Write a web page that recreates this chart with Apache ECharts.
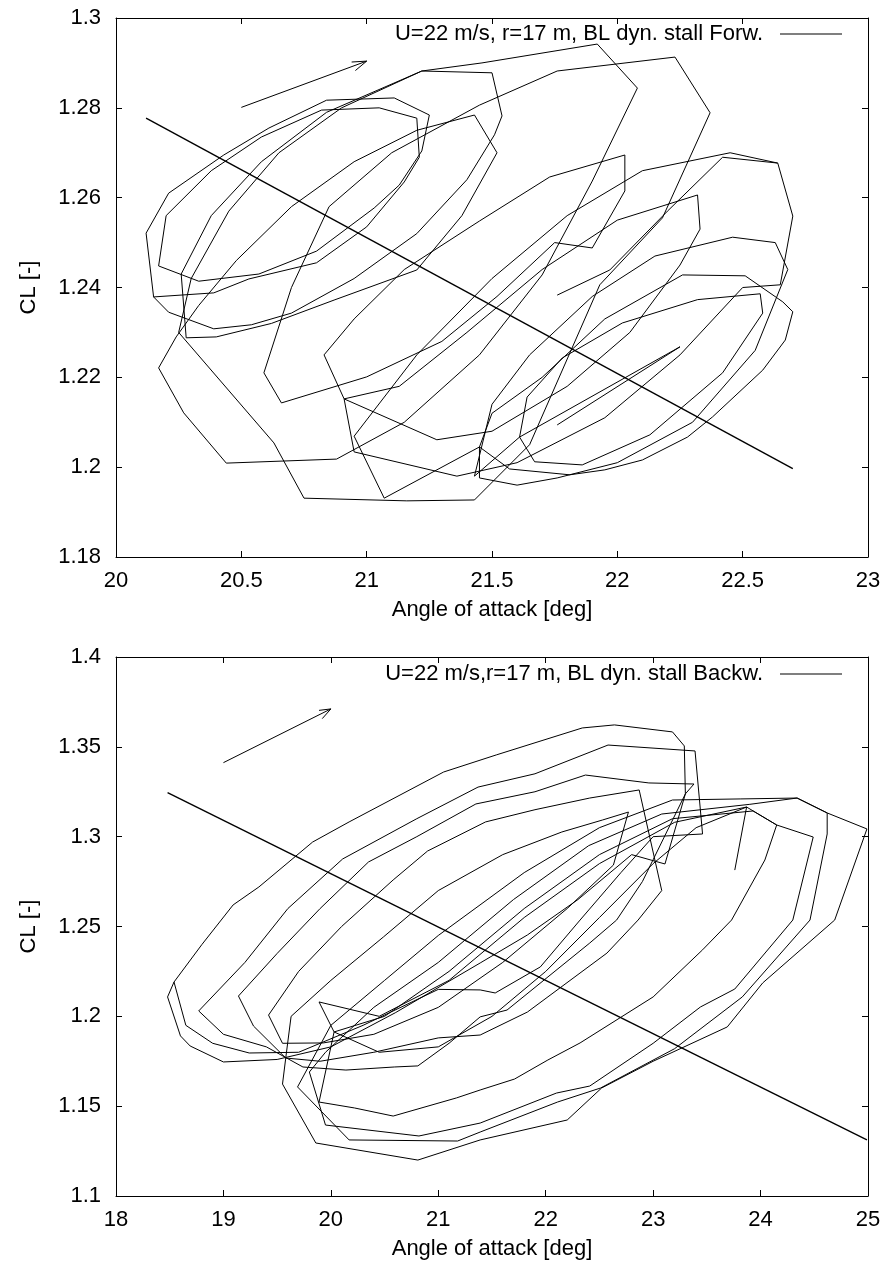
<!DOCTYPE html>
<html>
<head>
<meta charset="utf-8">
<script src="https://cdn.jsdelivr.net/npm/echarts@6/dist/echarts.min.js"></script>
<style>
  html, body { margin: 0; padding: 0; background: #fff; }
  #chart { width: 885px; height: 1270px; }
</style>
</head>
<body>
<div id="chart"></div>
<script>
const forwName = "U=22 m/s, r=17 m, BL dyn. stall Forw.";
const backName = "U=22 m/s,r=17 m, BL dyn. stall Backw.";

// axis ranges: [min, max, step]
const forwXRange = [20, 23, 0.5];
const forwYRange = [1.18, 1.3, 0.02];
const backXRange = [18, 25, 1];
const backYRange = [1.1, 1.4, 0.05];

// ---- forward run (top) ----
const forwStart = [[21.76,1.2383],[21.97,1.2439],[22.20,1.2570],[22.42,1.2690],[22.64,1.2677]];
const forwA = [[20.15,1.2379],[20.12,1.2521],[20.21,1.2610],[20.43,1.2695],[20.61,1.2755],[20.84,1.2817],[21.11,1.2822],[21.25,1.2784],[21.22,1.2704],[21.13,1.2628],[21.03,1.2577],[20.80,1.2481],[20.57,1.2430],[20.33,1.2414],[20.17,1.2448]];
const forwB = [[20.20,1.2560],[20.38,1.2660],[20.58,1.2735],[20.82,1.2795],[21.05,1.2800],[21.20,1.2777],[21.21,1.2690],[21.15,1.2635],[21.00,1.2535],[20.80,1.2455],[20.53,1.2419],[20.39,1.2388],[20.15,1.2379]];
const forwC = [[20.21,1.2345],[20.39,1.2308],[20.54,1.2317],[20.70,1.2343],[20.95,1.2420],[21.20,1.2520],[21.40,1.2640],[21.51,1.2740],[21.54,1.2782],[21.50,1.2878],[21.22,1.2882],[20.84,1.2790],[20.58,1.2680],[20.38,1.2560],[20.26,1.2430],[20.28,1.2288]];
const forwD = [[20.40,1.2290],[20.62,1.2320],[20.87,1.2372],[21.20,1.2439],[21.38,1.2560],[21.52,1.2700],[21.43,1.2784],[21.20,1.2750],[20.95,1.2680],[20.70,1.2580],[20.48,1.2460],[20.33,1.2360],[20.24,1.2290],[20.17,1.2221]];
const forwE = [[20.27,1.2121],[20.44,1.2009],[20.88,1.2018],[21.15,1.2100],[21.45,1.2250],[21.70,1.2428],[21.90,1.2637],[22.08,1.2844],[21.92,1.2942],[21.46,1.2900],[21.22,1.2882],[20.90,1.2800],[20.65,1.2700],[20.45,1.2570],[20.30,1.2420],[20.25,1.2300]];
const forwF = [[20.63,1.2054],[20.75,1.1931],[21.16,1.1925],[21.43,1.1927],[21.65,1.2050],[21.93,1.2406],[22.18,1.2555],[22.37,1.2789],[22.23,1.2913],[21.76,1.2882],[21.45,1.2806],[21.10,1.2700],[20.85,1.2580],[20.70,1.2400],[20.59,1.2210]];
const forwG = [[20.66,1.2143],[21.00,1.2201],[21.30,1.2280],[21.52,1.2380],[21.75,1.2500],[21.90,1.2488],[22.03,1.2615],[22.03,1.2695],[21.73,1.2646],[21.45,1.2548],[21.15,1.2440],[20.95,1.2330],[20.83,1.2250],[20.91,1.2152]];
const forwI = [[21.28,1.2061],[21.50,1.2080],[21.80,1.2180],[22.05,1.2300],[22.25,1.2450],[22.33,1.2530],[22.32,1.2606],[22.00,1.2550],[21.70,1.2440],[21.40,1.2300],[21.13,1.2180],[20.91,1.2152],[20.95,1.2034]];
const forwH = [[21.36,1.1980],[21.60,1.2010],[21.95,1.2110],[22.25,1.2250],[22.50,1.2400],[22.65,1.2406],[22.70,1.2559],[22.64,1.2677],[22.45,1.2700],[22.10,1.2660],[21.80,1.2560],[21.50,1.2420],[21.20,1.2250],[20.95,1.2069],[21.07,1.1931]];
const forwJ = [[21.45,1.2045],[21.57,1.1996],[21.81,1.1983],[21.95,1.1994],[22.10,1.2016],[22.28,1.2067],[22.38,1.2112],[22.58,1.2216],[22.67,1.2283],[22.70,1.2346],[22.66,1.2368],[22.51,1.2426],[22.26,1.2428],[21.95,1.2330],[21.70,1.2200],[21.50,1.2120],[21.45,1.2045]];
const forwK = [[21.45,1.1976],[21.60,1.1960],[21.76,1.1976],[22.00,1.2010],[22.30,1.2100],[22.55,1.2260],[22.68,1.2440],[22.63,1.2500],[22.46,1.2512],[22.15,1.2470],[21.90,1.2380],[21.65,1.2250],[21.50,1.2140],[21.43,1.1980]];
const forwL = [[21.61,1.2067],[21.67,1.2012],[21.86,1.2005],[22.13,1.2072],[22.42,1.2210],[22.58,1.2343],[22.57,1.2386],[22.32,1.2373],[22.02,1.2321],[21.78,1.2243],[21.64,1.2156],[21.61,1.2067],[22.25,1.2268],[21.76,1.2094]];
const forwDiag = [[20.12,1.2777],[22.70,1.1997]];
const forwArrow = [[20.50,1.2801],[21.00,1.2904]];
const forwArrowHead = [[20.94,1.2902],[21.00,1.2904],[20.955,1.2883]];

// ---- backward run (bottom) ----
const backLG1 = [[18.54,1.2191],[18.48,1.2108],[18.60,1.1891],[18.69,1.1835],[19.00,1.1746],[19.50,1.1760],[20.00,1.1830],[20.60,1.2020],[21.39,1.2297],[21.83,1.2453],[22.30,1.2650],[22.80,1.2900],[23.11,1.2848],[23.30,1.3238],[23.29,1.3505],[23.18,1.3583],[22.64,1.3622],[22.34,1.3605],[21.54,1.3455],[21.05,1.3360],[20.17,1.3082],[19.83,1.2970],[19.33,1.2720],[19.09,1.2620],[18.80,1.2400],[18.54,1.2191]];
const backLG2 = [[18.65,1.1950],[18.90,1.1850],[19.24,1.1796],[19.70,1.1800],[20.30,1.1950],[21.00,1.2150],[21.39,1.2147],[21.53,1.2130],[21.95,1.2275],[22.32,1.2536],[22.70,1.2800],[23.00,1.3000],[23.46,1.3015],[23.39,1.3477],[22.58,1.3510],[21.90,1.3350],[21.37,1.3276],[20.80,1.3100],[20.11,1.2876],[19.60,1.2600],[19.20,1.2300],[18.77,1.2030]];
const backLG3 = [[19.00,1.1900],[19.40,1.1830],[19.74,1.1718],[20.14,1.1701],[20.59,1.1718],[20.81,1.1724],[21.10,1.1850],[21.39,1.1997],[21.64,1.2035],[22.41,1.2408],[22.66,1.2536],[22.90,1.2750],[23.30,1.3238],[23.38,1.3293],[22.96,1.3299],[22.37,1.3343],[21.90,1.3250],[21.35,1.3182],[20.80,1.3000],[20.35,1.2859],[19.90,1.2600],[19.50,1.2350],[19.14,1.2113]];
const backLG4 = [[19.28,1.1946],[19.58,1.1768],[19.90,1.1750],[20.40,1.1800],[21.00,1.1880],[21.39,1.1896],[21.83,1.2024],[22.57,1.2352],[22.86,1.2536],[23.08,1.2700],[22.87,1.3260],[22.41,1.3215],[21.90,1.3150],[21.44,1.3082],[20.90,1.2920],[20.58,1.2759],[20.10,1.2500],[19.70,1.2250],[19.42,1.2007]];
const backLG5 = [[19.55,1.1850],[19.93,1.1852],[20.40,1.1900],[21.00,1.2050],[21.60,1.2300],[22.20,1.2600],[22.63,1.2842],[22.77,1.3137],[22.53,1.3093],[22.15,1.3026],[21.60,1.2900],[21.00,1.2700],[20.49,1.2442],[20.00,1.2200],[19.63,1.2000],[19.58,1.1768]];
const backRG1 = [[19.55,1.1623],[19.86,1.1295],[20.81,1.1200],[21.39,1.1312],[22.20,1.1423],[22.52,1.1601],[23.00,1.1750],[23.69,1.1941],[24.02,1.2186],[24.69,1.2536],[24.99,1.3043],[24.62,1.3132],[24.34,1.3215],[23.81,1.3210],[23.18,1.3204],[22.50,1.3050],[21.80,1.2800],[21.00,1.2450],[20.50,1.2200],[20.00,1.1950],[19.69,1.1607]];
const backRG2 = [[20.17,1.1312],[21.18,1.1306],[21.39,1.1356],[22.11,1.1523],[22.51,1.1601],[23.20,1.1820],[23.83,1.2108],[24.46,1.2536],[24.62,1.3015],[24.62,1.3132],[24.34,1.3215],[23.90,1.3180],[23.08,1.3126],[22.40,1.2950],[21.70,1.2650],[21.00,1.2300],[20.40,1.2050],[19.95,1.1800],[19.80,1.1690]];
const backRG3 = [[19.95,1.1395],[20.82,1.1334],[21.39,1.1406],[22.10,1.1573],[22.41,1.1612],[23.00,1.1850],[23.44,1.2052],[23.76,1.2152],[24.30,1.2536],[24.49,1.2998],[24.15,1.3065],[23.93,1.3143],[23.18,1.3100],[22.50,1.2900],[21.80,1.2600],[21.10,1.2250],[20.50,1.2000],[20.03,1.1913],[19.89,1.1523]];
const backRG4 = [[20.22,1.1490],[20.58,1.1445],[21.17,1.1546],[21.39,1.1590],[21.71,1.1651],[22.02,1.1757],[22.32,1.1852],[23.00,1.2108],[23.46,1.2370],[23.73,1.2536],[24.04,1.2870],[24.15,1.3065],[23.87,1.3165],[23.20,1.3080],[22.50,1.2850],[21.80,1.2550],[21.10,1.2200],[20.45,1.2000],[19.89,1.2080]];
const backRG5 = [[20.03,1.1913],[20.45,1.1800],[21.00,1.1830],[21.50,1.2000],[22.00,1.2250],[22.50,1.2550],[23.00,1.2850],[23.40,1.3050],[23.87,1.3165],[23.76,1.2814]];
const backDiag = [[18.48,1.3245],[24.99,1.1312]];
const backArrow = [[19.00,1.3412],[20.00,1.3711]];
const backArrowHead = [[19.89,1.3703],[20.00,1.3711],[19.92,1.3657]];

// null in the list = pen up
function joinLoops(list) {
  const out = [];
  list.forEach(function (loop) {
    if (loop === null) { out.push(['-', '-']); return; }
    loop.forEach(function (p) { out.push(p); });
  });
  return out;
}

const forwData = joinLoops([forwStart, null, forwA, forwB, forwC, forwD, forwE, forwF, forwG, forwI, forwH, forwJ, forwK, forwL]);
const backData = joinLoops([backLG1, backLG2, backLG3, backLG4, backLG5, backRG1, backRG2, backRG3, backRG4, backRG5]);

const font = "'Liberation Sans', Arial, sans-serif";
const black = '#000';
const fs = 22;

function fmt(v) { return String(+v.toFixed(2)); }

function xAxes(gi, r, withName) {
  const base = {
    type: 'value', gridIndex: gi, min: r[0], max: r[1], interval: r[2],
    splitLine: { show: false },
    axisLine: { show: true, onZero: false, lineStyle: { color: black, width: 1 } },
    axisTick: { show: true, inside: true, length: 6, lineStyle: { color: black } }
  };
  return [
    Object.assign({}, base, {
      position: 'bottom',
      axisLabel: { color: black, fontSize: fs, fontFamily: font, margin: 13, formatter: fmt },
      name: withName, nameLocation: 'middle', nameGap: 42,
      nameTextStyle: { color: black, fontSize: fs, fontFamily: font }
    }),
    Object.assign({}, base, { position: 'top', axisLabel: { show: false } })
  ];
}

function yAxes(gi, r) {
  const base = {
    type: 'value', gridIndex: gi, min: r[0], max: r[1], interval: r[2],
    splitLine: { show: false },
    axisLine: { show: true, onZero: false, lineStyle: { color: black, width: 1 } },
    axisTick: { show: true, inside: true, length: 6, lineStyle: { color: black } }
  };
  return [
    Object.assign({}, base, {
      position: 'left',
      axisLabel: { color: black, fontSize: fs, fontFamily: font, margin: 15, formatter: fmt },
      name: 'CL [-]', nameLocation: 'middle', nameGap: 76, nameRotate: 90,
      nameTextStyle: { color: black, fontSize: fs, fontFamily: font }
    }),
    Object.assign({}, base, { position: 'right', axisLabel: { show: false } })
  ];
}

function plain(name, xi, yi, data, width) {
  return {
    name: name, type: 'line', xAxisIndex: xi, yAxisIndex: yi, data: data,
    showSymbol: false, symbol: 'none', silent: true, connectNulls: false,
    lineStyle: { color: black, width: width || 1 }, itemStyle: { color: black }
  };
}

// legend: text first, then a plain 62px line sample
function legendFor(name, top) {
  return {
    data: [name], right: 43, top: top, align: 'right', padding: 0,
    icon: 'rect', itemWidth: 62, itemHeight: 1.2, selectedMode: false,
    itemStyle: { color: black },
    textStyle: { color: black, fontSize: fs, fontFamily: font, padding: [0, 12, 0, 0] }
  };
}

const chart = echarts.init(document.getElementById('chart'), null, { renderer: 'canvas' });
chart.setOption({
  animation: false,
  backgroundColor: '#fff',
  grid: [
    { left: 116, top: 18, width: 752, height: 539 },
    { left: 116, top: 657, width: 752, height: 539 }
  ],
  legend: [legendFor(forwName, 23), legendFor(backName, 663)],
  xAxis: xAxes(0, forwXRange, 'Angle of attack [deg]').concat(xAxes(1, backXRange, 'Angle of attack [deg]')),
  yAxis: yAxes(0, forwYRange).concat(yAxes(1, backYRange)),
  series: [
    plain(forwName, 0, 0, forwData),
    plain('', 0, 0, forwDiag, 1.4),
    plain('', 0, 0, forwArrow),
    plain('', 0, 0, forwArrowHead),
    plain(backName, 2, 2, backData),
    plain('', 2, 2, backDiag, 1.4),
    plain('', 2, 2, backArrow),
    plain('', 2, 2, backArrowHead)
  ]
});
</script>
</body>
</html>
